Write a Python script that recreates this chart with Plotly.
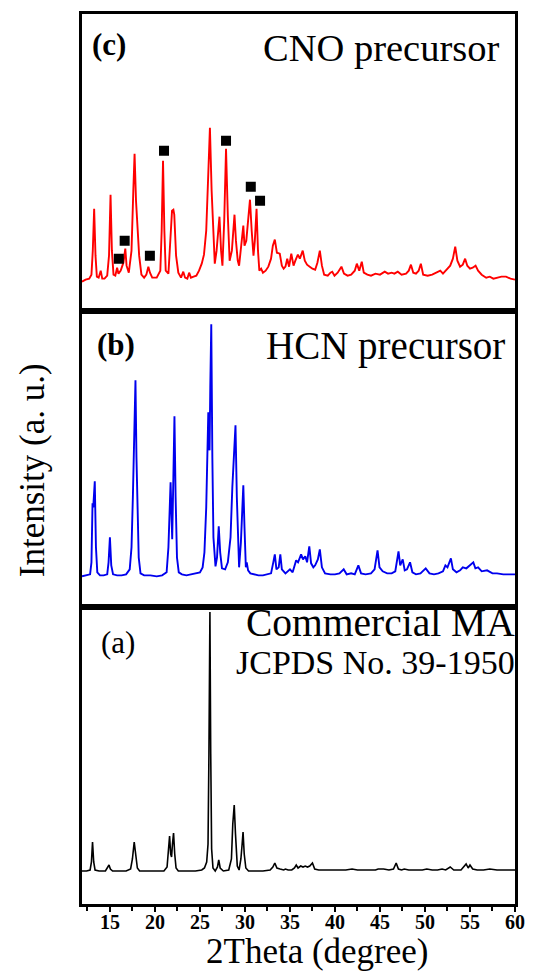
import plotly.graph_objects as go
from plotly.subplots import make_subplots

# ---------------- data (2Theta in degree, intensity in a.u.) ----------------
cno_x = [11.9, 12.3, 12.7, 12.95, 13.1, 13.25, 13.4, 13.55, 13.75, 13.98, 14.15, 14.4, 14.7, 14.9, 15.07,
         15.22, 15.4, 15.6, 15.8, 15.95, 16.2, 16.5, 16.71, 16.85, 17.1, 17.4, 17.6, 17.74, 17.9, 18.06,
         18.25, 18.5, 18.8, 19.05, 19.27, 19.45, 19.7, 20.2, 20.6, 20.75, 20.9, 21.05, 21.2, 21.5, 21.75,
         21.9, 22.05, 22.15, 22.35, 22.6, 22.9, 23.15, 23.35, 23.6, 23.8, 24.0, 24.3, 24.6, 24.9, 25.2,
         25.45, 25.7, 25.9, 26.11, 26.3, 26.5, 26.65, 26.85, 27.05, 27.17, 27.35, 27.5, 27.7, 27.9, 28.1,
         28.3, 28.55, 28.75, 28.84, 29.0, 29.2, 29.35, 29.6, 29.82, 29.95, 30.15, 30.35, 30.56, 30.75, 30.95,
         31.1, 31.29, 31.45, 31.6, 31.8, 32.0, 32.3, 32.6, 32.9, 33.1, 33.32, 33.55, 33.87, 34.1, 34.3,
         34.5, 34.7, 34.9, 35.15, 35.4, 35.6, 35.88, 36.1, 36.42, 36.65, 36.9, 37.2, 37.5, 37.8, 38.05,
         38.32, 38.55, 38.8, 39.2, 39.5, 39.7, 39.95, 40.3, 40.72, 41.0, 41.4, 41.8, 42.2, 42.43, 42.7,
         42.98, 43.2, 43.6, 44.0, 44.5, 45.0, 45.53, 45.9, 46.3, 46.6, 46.98, 47.4, 47.9, 48.2, 48.44,
         48.7, 49.0, 49.3, 49.54, 49.8, 50.3, 50.8, 51.3, 51.7, 52.0, 52.45, 52.8, 53.1, 53.36, 53.6,
         53.9, 54.2, 54.46, 54.7, 55.0, 55.3, 55.62, 55.9, 56.3, 56.8, 57.2, 57.6, 58.0, 58.5, 59.0,
         59.5, 60.0]
cno_y = [29, 31, 32, 36, 60, 102, 55, 34, 33, 40, 32, 32, 35, 55, 116,
         60, 36, 35, 43, 37, 40, 48, 62, 45, 38, 60, 120, 157, 110, 88,
         55, 36, 33, 36, 44, 38, 33, 33, 40, 80, 150, 80, 40, 37, 70,
         100, 101, 96, 55, 38, 33, 39, 33, 32, 38, 33, 34, 35, 40, 47,
         56, 80, 130, 183, 120, 70, 47, 60, 85, 94, 60, 45, 90, 162, 95,
         50, 60, 90, 96, 70, 50, 45, 70, 85, 65, 70, 90, 111, 80, 55,
         70, 102, 60, 40, 42, 38, 40, 44, 52, 65, 71, 58, 57, 45, 42,
         44, 52, 44, 57, 45, 50, 56, 52, 60, 50, 46, 44, 42, 41, 48,
         60, 45, 36, 35, 38, 39, 35, 38, 44, 37, 35, 36, 40, 47, 40,
         49, 38, 36, 35, 37, 36, 39, 37, 38, 37, 39, 36, 37, 40, 46,
         38, 37, 40, 47, 36, 35, 36, 38, 40, 37, 42, 45, 52, 64, 50,
         44, 46, 52, 45, 42, 43, 45, 40, 36, 33, 34, 32, 33, 34, 34,
         32, 31]

# marked reflections (black squares) in the CNO precursor pattern
mark_x = [15.99, 16.64, 19.44, 21.01, 27.9, 30.65, 31.68]
mark_y = [52, 70, 55, 160, 170, 124, 110]

hcn_x = [11.9, 12.4, 12.8, 12.95, 13.07, 13.15, 13.32, 13.45, 13.6, 13.9, 14.3, 14.7, 14.85, 15.0, 15.15,
         15.35, 15.8, 16.3, 16.8, 17.2, 17.4, 17.55, 17.7, 17.84, 17.95, 18.05, 18.2, 18.4, 18.8, 19.5,
         20.2, 20.8, 21.3, 21.5, 21.74, 21.85, 21.92, 22.05, 22.17, 22.3, 22.45, 22.65, 23.0, 23.5, 24.0,
         24.5, 25.0, 25.3, 25.5, 25.7, 25.85, 25.93, 26.02, 26.07, 26.15, 26.26, 26.38, 26.5, 26.73, 26.9,
         27.09, 27.25, 27.45, 27.8, 28.1, 28.4, 28.6, 28.8, 28.95, 29.1, 29.25, 29.35, 29.55, 29.7, 29.82,
         29.95, 30.1, 30.2, 30.35, 30.6, 31.0, 31.5, 32.0, 32.5, 32.9, 33.15, 33.32, 33.5, 33.75, 33.93,
         34.1, 34.5, 35.0, 35.3, 35.69, 35.9, 36.24, 36.45, 36.7, 36.9, 37.15, 37.35, 37.6, 37.8, 38.1,
         38.32, 38.55, 38.9, 39.5, 40.0, 40.5, 40.97, 41.3, 41.8, 42.2, 42.6, 42.9, 43.4, 44.0, 44.4,
         44.73, 44.95, 45.3, 45.8, 46.3, 46.7, 47.06, 47.25, 47.53, 47.75, 48.0, 48.34, 48.6, 49.0, 49.5,
         50.08, 50.5, 51.0, 51.5, 52.0, 52.27, 52.5, 52.88, 53.1, 53.5, 53.9, 54.2, 54.6, 54.9, 55.37,
         55.6, 55.9, 56.3, 56.9, 57.5, 58.0, 58.7, 59.3, 60.0]
hcn_y = [31, 32, 33, 45, 104, 100, 126, 60, 35, 32, 32, 33, 45, 70, 42,
         33, 32, 32, 33, 38, 60, 110, 170, 227, 150, 100, 50, 34, 32, 32,
         31, 32, 35, 60, 125, 90, 68, 130, 191, 110, 50, 35, 33, 32, 33,
         34, 35, 40, 55, 100, 170, 195, 160, 157, 220, 283, 150, 70, 41, 50,
         81, 55, 39, 38, 45, 70, 120, 150, 182, 110, 50, 40, 65, 100, 122,
         80, 40, 45, 37, 34, 33, 32, 32, 33, 34, 45, 53, 38, 40, 53,
         38, 34, 38, 35, 47, 45, 53, 48, 51, 45, 61, 44, 40, 42, 48,
         58, 40, 34, 33, 33, 34, 38, 33, 34, 33, 42, 34, 33, 34, 38,
         57, 40, 36, 34, 34, 36, 56, 42, 48, 37, 38, 45, 35, 33, 34,
         39, 34, 33, 34, 36, 42, 40, 49, 38, 35, 37, 40, 39, 41, 45,
         39, 40, 36, 37, 34, 34, 33, 33, 33]

ma_x = [11.9, 12.4, 12.8, 12.95, 13.07, 13.2, 13.35, 13.8, 14.5, 14.75, 14.9, 15.05, 15.3, 16.0, 16.8,
        17.3, 17.5, 17.7, 17.85, 18.05, 18.3, 19.0, 20.0, 21.0, 21.35, 21.5, 21.63, 21.75, 21.85, 21.95,
        22.07, 22.2, 22.35, 22.6, 23.5, 24.5, 25.2, 25.5, 25.75, 25.9, 26.0, 26.11, 26.2, 26.3, 26.45,
        26.7, 26.95, 27.09, 27.25, 27.6, 28.2, 28.5, 28.65, 28.81, 28.95, 29.15, 29.35, 29.55, 29.69, 29.79,
        29.92, 30.1, 30.4, 31.0, 32.0, 32.8, 33.1, 33.32, 33.55, 33.9, 34.3, 34.5, 34.8, 35.2, 35.5,
        35.7, 35.9, 36.2, 36.45, 36.7, 36.95, 37.2, 37.5, 37.75, 38.2, 38.8, 39.5, 40.5, 41.2, 41.9,
        42.5, 43.5, 44.5, 44.8, 45.4, 46.0, 46.5, 46.8, 47.05, 47.4, 47.7, 48.2, 49.0, 49.7, 50.2,
        50.8, 51.4, 51.9, 52.3, 52.8, 53.2, 54.0, 54.57, 54.8, 55.0, 55.3, 55.8, 56.5, 57.2, 58.0,
        59.0, 60.0]
ma_y = [33, 33, 34, 42, 62, 42, 34, 33, 33, 36, 39, 35, 33, 33, 33,
        35, 45, 62, 48, 36, 33, 33, 33, 33, 37, 55, 68, 50, 47, 60,
        71, 50, 36, 33, 33, 33, 34, 36, 42, 60, 150, 292, 150, 55, 36,
        33, 37, 44, 36, 33, 34, 45, 80, 99, 70, 38, 34, 45, 60, 72,
        50, 36, 33, 33, 33, 34, 37, 41, 36, 35, 34, 35, 34, 34, 36,
        39, 36, 38, 37, 38, 37, 38, 41, 35, 34, 34, 34, 34, 34, 35,
        34, 34, 34, 35, 35, 34, 35, 41, 35, 34, 35, 34, 34, 34, 35,
        34, 34, 35, 34, 37, 34, 34, 40, 36, 39, 35, 34, 34, 35, 34,
        34, 34]

x_ticks = [15, 20, 25, 30, 35, 40, 45, 50, 55, 60]
x_ticktext = ["<b>%d</b>" % v for v in x_ticks]
x_range = [11.9, 60]
y_range = [0, 296.7]

# ---------------- figure ----------------
SERIF = "Liberation Serif, Times New Roman, serif"

fig = make_subplots(rows=3, cols=1, shared_xaxes=True, vertical_spacing=0)

fig.add_trace(go.Scatter(x=cno_x, y=cno_y, mode="lines",
                         line=dict(color="#ff0000", width=1.9), showlegend=False), row=1, col=1)
fig.add_trace(go.Scatter(x=mark_x, y=mark_y, mode="markers",
                         marker=dict(symbol="square", size=10, color="black"), showlegend=False),
              row=1, col=1)
fig.add_trace(go.Scatter(x=hcn_x, y=hcn_y, mode="lines",
                         line=dict(color="#0000ee", width=1.9), showlegend=False), row=2, col=1)
fig.add_trace(go.Scatter(x=ma_x, y=ma_y, mode="lines",
                         line=dict(color="black", width=1.6), showlegend=False), row=3, col=1)

for r in (1, 2, 3):
    fig.update_yaxes(range=y_range, showticklabels=False, ticks="", showgrid=False,
                     zeroline=False, showline=True, mirror=True, linecolor="black",
                     linewidth=2.8, row=r, col=1)
    fig.update_xaxes(range=x_range, showgrid=False, zeroline=False, showline=True,
                     mirror=True, linecolor="black", linewidth=2.8, row=r, col=1)

fig.update_xaxes(showticklabels=False, ticks="", row=1, col=1)
fig.update_xaxes(showticklabels=False, ticks="", row=2, col=1)
fig.update_xaxes(tickvals=x_ticks, ticktext=x_ticktext, ticks="outside", ticklen=5, tickwidth=2,
                 tickcolor="black", ticklabelstandoff=-7,
                 tickfont=dict(family=SERIF, size=20, color="black"),
                 minor=dict(dtick=2.5, tick0=0, ticks="outside", ticklen=4, tickwidth=2,
                            tickcolor="black"),
                 row=3, col=1)

def ann(text, x, y, size, xanchor="center", bold=False):
    fig.add_annotation(text=text, x=x, y=y, xref="paper", yref="paper",
                       xanchor=xanchor, yanchor="middle", showarrow=False,
                       font=dict(family=SERIF, size=size, color="black",
                                 weight="bold" if bold else "normal"))

ann("(c)", 0.0632, 0.9652, 31, bold=True)
ann("CNO precursor", 0.968, 0.962, 38.5, xanchor="right")
ann("(b)", 0.079, 0.6281, 31, bold=True)
ann("HCN precursor", 0.982, 0.627, 39, xanchor="right")
ann("(a)", 0.0835, 0.2933, 31)
ann("Commercial MA", 1.005, 0.3157, 39.5, xanchor="right")
ann("JCPDS No. 39-1950", 1.0045, 0.2708, 34, xanchor="right")
ann("2Theta (degree)", 0.544, -0.0539, 35)
fig.add_annotation(text="Intensity (a. u.)", x=-0.1151, y=0.4876, xref="paper", yref="paper",
                   textangle=-90, xanchor="center", yanchor="middle", showarrow=False,
                   font=dict(family=SERIF, size=35, color="black"))

fig.update_layout(width=534, height=976, margin=dict(l=82, r=9, t=14, b=72),
                  plot_bgcolor="white", paper_bgcolor="white")

fig.write_html("out.html")
